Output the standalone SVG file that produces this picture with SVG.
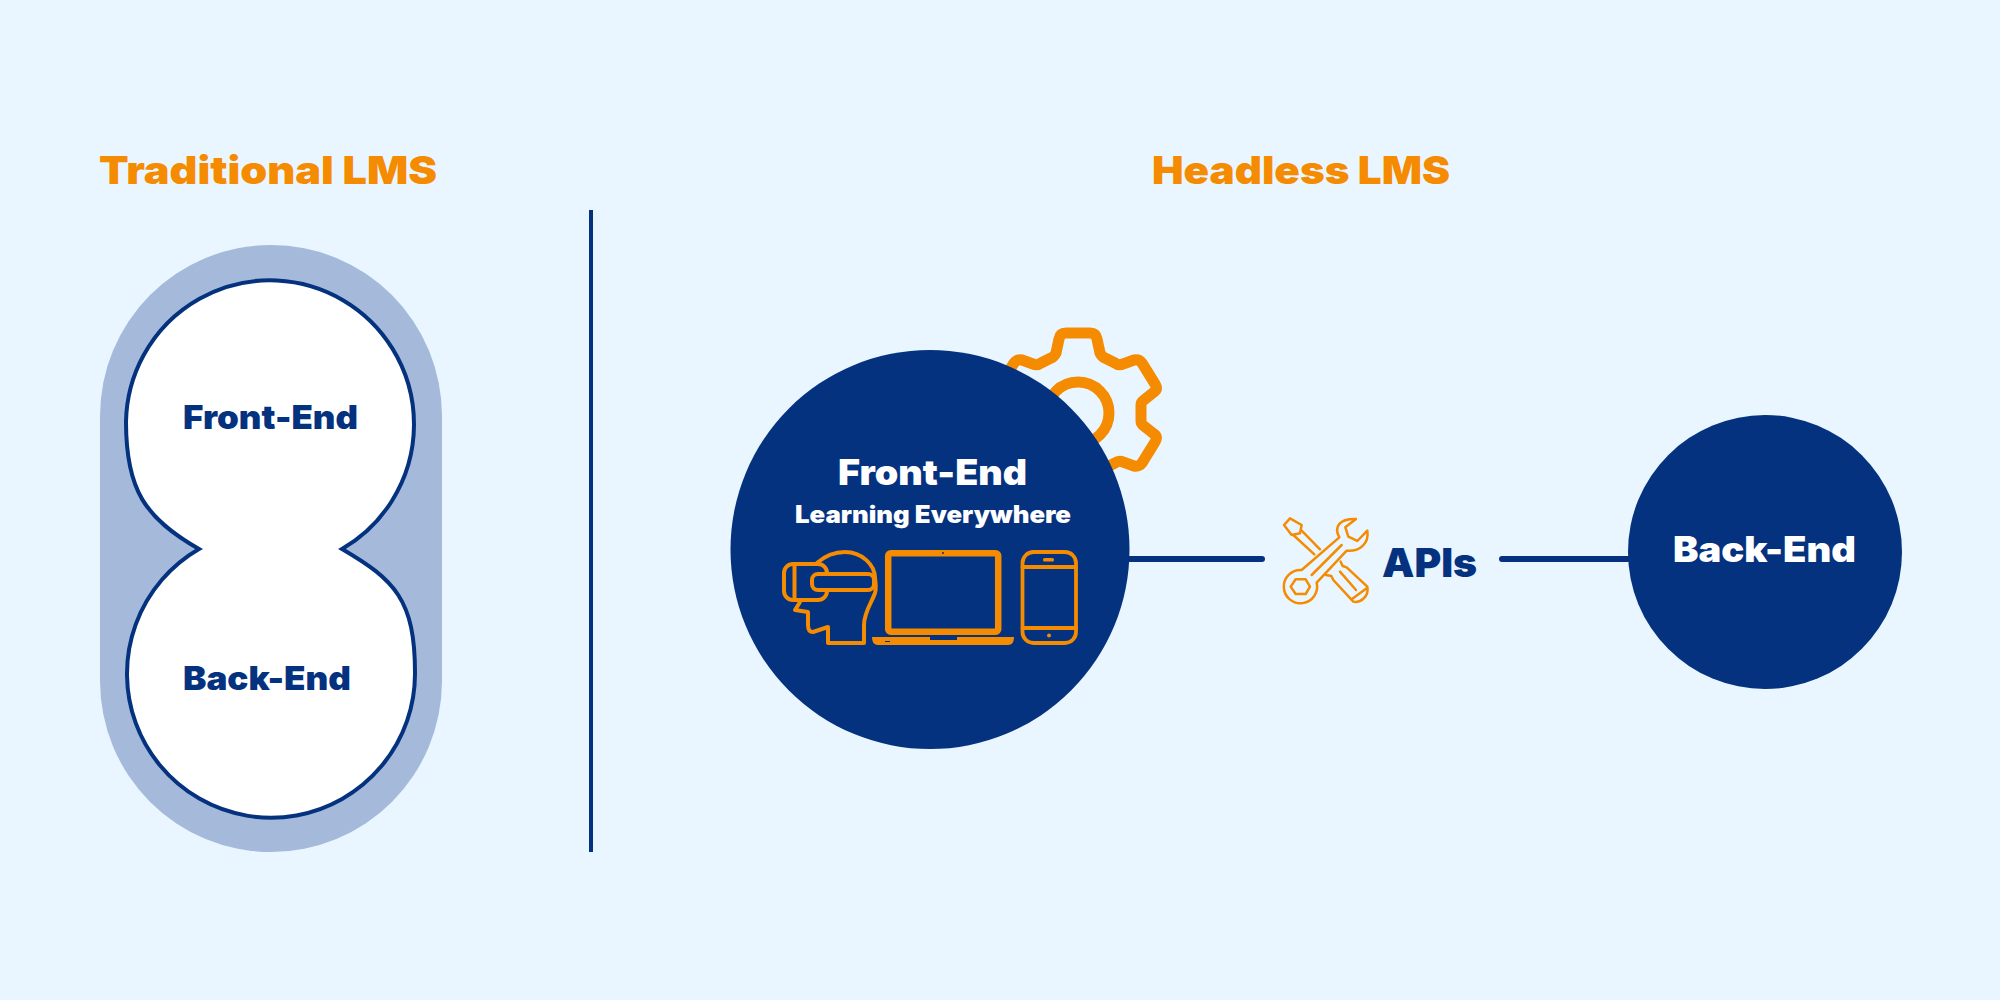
<svg xmlns="http://www.w3.org/2000/svg" width="2000" height="1000" viewBox="0 0 2000 1000">
<style>
text{font-family:Inter,"Liberation Sans",sans-serif;font-weight:900}
.or{fill:#F58B00}.nv{fill:#04327F}.wh{fill:#fff}
.ln{fill:none;stroke:#F58B00;stroke-linejoin:round;stroke-linecap:round}
.cn{fill:none;stroke:#04327F;stroke-linecap:round;stroke-width:6}
</style>
<rect width="2000" height="1000" fill="#EAF6FF"/>
<text class="or" x="99" y="184" font-size="39" textLength="338" lengthAdjust="spacingAndGlyphs">Traditional LMS</text>
<text class="or" x="1152" y="184" font-size="39" textLength="298" lengthAdjust="spacingAndGlyphs">Headless LMS</text>
<g id="traditional-lms">
<rect x="100" y="245" width="342" height="607" rx="171" fill="#A5BADB"/>
<path d="M342,549 A144,144 0 1 0 126,422 C126,490 145,518 199,549 A144,144 0 1 0 415,673 C415,600 395,580 342,549 Z" fill="#fff" stroke="#04327F" stroke-width="4"/>
<text class="nv" x="183" y="429" font-size="33" textLength="175" lengthAdjust="spacingAndGlyphs">Front-End</text>
<text class="nv" x="183" y="690" font-size="33" textLength="168" lengthAdjust="spacingAndGlyphs">Back-End</text>
</g>
<rect id="divider" x="589" y="210" width="4" height="642" fill="#04327F"/>
<g id="connectors">
<path class="cn" d="M1125,559 H1262"/>
<path class="cn" d="M1502,559 H1632"/>
</g>
<g id="gear" transform="translate(1078,413)">
<path class="ln" stroke-width="11" d="M-12,-80 L12,-80 Q18,-80 19,-74 L22,-60 Q24,-56 27,-55 L37,-50 Q41,-47 45,-49 L56,-53 Q61,-54 64,-50 L77,-29 Q80,-24 76,-21 L66,-13 Q63,-11 63,-8 L63,8 Q63,11 66,13 L76,21 Q80,24 77,29 L64,50 Q61,54 56,53 L45,49 Q41,47 37,50 L27,55 Q24,56 22,60 L19,74 Q18,80 12,80 L-12,80 Q-18,80 -19,74 L-22,60 Q-24,56 -27,55 L-37,50 Q-41,47 -45,49 L-56,53 Q-61,54 -64,50 L-77,29 Q-80,24 -76,21 L-66,13 Q-63,11 -63,8 L-63,-8 Q-63,-11 -66,-13 L-76,-21 Q-80,-24 -77,-29 L-64,-50 Q-61,-54 -56,-53 L-45,-49 Q-41,-47 -37,-50 L-27,-55 Q-24,-56 -22,-60 L-19,-74 Q-18,-80 -12,-80 Z"/>
<circle r="31" class="ln" stroke-width="11"/>
</g>
<g id="front-end">
<circle cx="930" cy="549.5" r="199.5" fill="#04327F"/>
<text class="wh" x="838" y="485" font-size="35" textLength="189" lengthAdjust="spacingAndGlyphs">Front-End</text>
<text class="wh" x="795" y="523" font-size="24" textLength="276" lengthAdjust="spacingAndGlyphs">Learning Everywhere</text>
<g class="ln" stroke-width="4">
<path d="M817,563 C826,555 835,552 845,552 C862,552 875,565 875,578 C876,585 876,590 875,593 C872,602 864,612 864,625 V643 H828 V627 L813,632 Q808,632 808,625 V612 L795,610 L800,602"/>
<rect x="784" y="564" width="43" height="36" rx="9"/>
<path d="M794.500,564 V600"/>
<rect x="812" y="574" width="62" height="16" rx="6" fill="#04327F"/>
</g>
<rect x="888.200" y="553.200" width="110" height="78.500" rx="2.500" fill="none" stroke="#F58B00" stroke-width="6.500"/>
<path class="or" d="M872,637 H930 V640 H957 V637 H1014 C1014,642 1012,645 1008,645 H878 C874,645 872,642 872,637 Z"/>
<circle cx="943" cy="553" r="1" fill="#04327F"/>
<rect x="885" y="641" width="5" height="1" fill="#04327F"/>
<g class="ln" stroke-width="3.800">
<rect x="1022.500" y="552" width="53.500" height="91" rx="11"/>
<path d="M1022.500,567 H1076 M1022.500,628 H1076"/>
</g>
<rect x="1043" y="558" width="11" height="3.500" rx="1.500" class="or"/>
<circle cx="1049" cy="635.500" r="2" class="or"/>
</g>
<g id="apis">
<g transform="translate(1250,490) scale(0.3333)" class="ln" stroke-width="7.500">
<path d="M155,240 L268,142 C250,110 270,85 318,87 L286,112 L295,140 L322,153 L352,122 C358,160 330,185 290,182 L200,278 A50,50 0 1 1 155,240 Z"/>
<path d="M122,290 L137,268 H167 L180,290 L167,312 H137 Z"/>
<path d="M185,255 L275,165"/>
<path d="M120,85 L155,105 L150,130 L125,135 L102,105 Z"/>
<path d="M130,135 L193,193 M155,122 L210,178"/>
<path d="M272,215 L278,228 L290,232 L352,290 C358,320 330,340 310,335 L250,270 L244,258 L228,255"/>
<path d="M305,328 L350,295 M270,245 L318,300"/>
</g>
<text class="nv" x="1382" y="577" font-size="40" textLength="95" lengthAdjust="spacingAndGlyphs">APIs</text>
</g>
<g id="back-end">
<circle cx="1765" cy="552" r="137" fill="#04327F"/>
<text class="wh" x="1673" y="562" font-size="35" textLength="183" lengthAdjust="spacingAndGlyphs">Back-End</text>
</g>
</svg>
